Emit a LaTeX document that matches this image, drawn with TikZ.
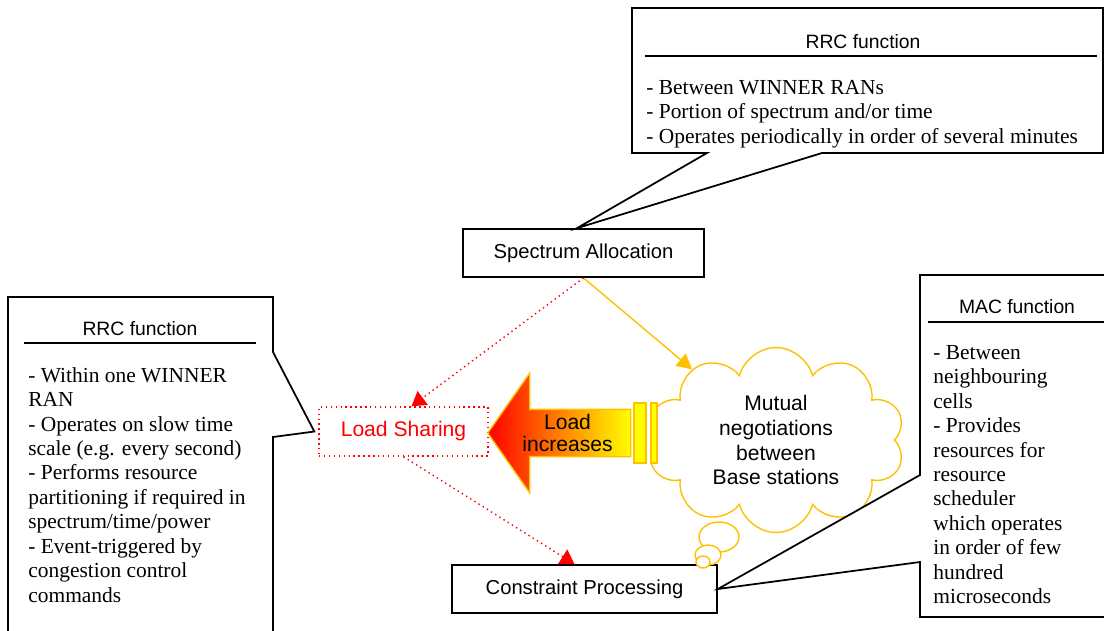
\documentclass[tikz,border=0pt]{standalone}
\usepackage{fontspec}
\setmainfont{Liberation Serif}
\setsansfont{Liberation Sans}
\usetikzlibrary{positioning, arrows.meta, shapes.symbols, shapes.arrows}
\definecolor{rrYellow}{RGB}{255, 192, 0}
\definecolor{rrRed}{RGB}{255, 0, 0}
\definecolor{rrLight}{RGB}{255, 255, 0}

\begin{document}
\begin{tikzpicture}[x=0.02cm, y=-0.02cm,
          box/.style={draw, line width=1pt, fill=white, inner sep=0pt,
                      font=\sffamily\fontsize{11.5}{13}\selectfont},
          callout/.style={draw, line width=1pt, fill=white},
          headtxt/.style={inner sep=0pt, font=\sffamily\fontsize{11}{13}\selectfont},
          bodytxt/.style={anchor=north west, align=left, inner sep=0pt,
                          font=\rmfamily\fontsize{12.2}{13.9}\selectfont},
          redarr/.style={-{Triangle[width=0.34cm, length=0.28cm]}, dotted,
                         line width=0.8pt, color=rrRed},
          yelarr/.style={-{Triangle[width=0.32cm, length=0.3cm]},
                         line width=0.8pt, color=rrYellow},
          bubble/.style={draw=rrYellow, line width=0.8pt, fill=white}]
        \useasboundingbox (0,0) rectangle (1104,630);

        % main blocks
        \node[box, minimum width=4.82cm, minimum height=0.96cm] (spec) at (583.5,253) {Spectrum Allocation};
        \node[box, minimum width=5.3cm, minimum height=0.96cm] (cp) at (584.5,589) {Constraint Processing};
        \node[draw=rrRed, dotted, line width=0.8pt, text=rrRed,
              minimum width=3.38cm, minimum height=0.98cm,
              font=\sffamily\fontsize{12}{14}\selectfont] (lshare) at (403.5,431.5) {Load Sharing};
        \node[cloud, cloud puffs=10, cloud ignores aspect, draw=rrYellow, line width=0.8pt,
              minimum width=5.15cm, minimum height=3.7cm, inner sep=0pt, align=center,
              font=\sffamily\fontsize{12}{14.2}\selectfont] (nego) at (776,440)
              {Mutual\\negotiations\\between\\Base stations};
        \draw[bubble] (719,537) ellipse [x radius=0.4cm, y radius=0.3cm];
        \draw[bubble] (708,555) ellipse [x radius=0.26cm, y radius=0.2cm];
        \draw[bubble] (703,562) ellipse [x radius=0.14cm, y radius=0.12cm];

        % load increases arrow
        \node[single arrow, shape border rotate=180, draw=rrYellow, line width=0.8pt,
              left color=rrRed, right color=rrLight,
              minimum height=2.86cm, minimum width=2.4cm,
              single arrow head extend=0.6cm, single arrow tip angle=110,
              inner sep=0pt, align=center,
              font=\sffamily\fontsize{12}{12.5}\selectfont] (loadinc) at (567.5,433) {Load\\increases};
        \draw[draw=rrYellow, line width=0.8pt, fill=rrLight] (634,403) rectangle (646,463);
        \draw[draw=rrYellow, line width=0.8pt, fill=rrLight] (651,403) rectangle (657,463);

        \draw[yelarr] (spec.south) -- (nego);
        \draw[redarr] (spec.south) -- ([xshift=0.16cm]lshare.north);
        \draw[redarr] (lshare.south) -- ([xshift=-0.2cm]cp.north);

        % callouts
        \coordinate (toptip) at ([xshift=-0.13cm]spec.north);
        \coordinate (lefttip) at ([xshift=-0.08cm]lshare.west);
        \draw[callout] (632,8) -- (1103,8) -- (1103,153) -- (822,153) -- (toptip)
              -- (707,153) -- (632,153) -- cycle;
        \draw[callout] (8,640) -- (8,297) -- (273,297) -- (273,352) -- (lefttip)
              -- (273,437) -- (273,640);
        \draw[callout] (1110,275) -- (920,275) -- (920,475) -- (cp.east)
              -- (920,562) -- (920,617) -- (1110,617);

        \node[headtxt] (topHead) at (863,42) {RRC function};
        \draw[line width=1pt] (645,56) -- (1097,56);
        \node[bodytxt] (topBody) at (646,80) {- Between WINNER RANs\\- Portion of spectrum and/or time\\- Operates periodically in order of several minutes};

        \node[headtxt] (leftHead) at (140,329) {RRC function};
        \draw[line width=1pt] (24,343) -- (256,343);
        \node[bodytxt] (leftBody) at (28,367) {- Within one WINNER\\RAN\\- Operates on slow time\\scale (e.g. every second)\\- Performs resource\\partitioning if required in\\spectrum/time/power\\- Event-triggered by\\congestion control\\commands};

        \node[headtxt] (macHead) at (1017,307) {MAC function};
        \draw[line width=1pt] (928,322) -- (1104,322);
        \node[bodytxt] (macBody) at (933,345) {- Between\\neighbouring\\cells\\- Provides\\resources for\\resource\\scheduler\\which operates\\in order of few\\hundred\\microseconds};
      \end{tikzpicture}
\end{document}
